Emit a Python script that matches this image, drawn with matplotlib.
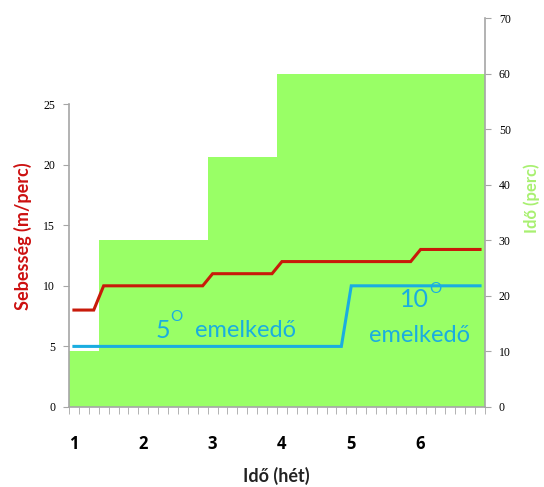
import matplotlib

matplotlib.use("Agg")
import numpy as np
import matplotlib.pyplot as plt

plt.rcParams["font.family"] = ["Lato", "DejaVu Sans"]

# daily values over six weeks (42 days)
speed = [8, 8, 8, 10, 10, 10, 10, 10, 10, 10, 10, 10, 10, 10,
         11, 11, 11, 11, 11, 11, 11, 12, 12, 12, 12, 12, 12, 12,
         12, 12, 12, 12, 12, 12, 12, 13, 13, 13, 13, 13, 13, 13]
incline = [5, 5, 5, 5, 5, 5, 5, 5, 5, 5, 5, 5, 5, 5,
           5, 5, 5, 5, 5, 5, 5, 5, 5, 5, 5, 5, 5, 5,
           10, 10, 10, 10, 10, 10, 10, 10, 10, 10, 10, 10, 10, 10]
duration = [10, 10, 10, 30, 30, 30, 30, 30, 30, 30, 30, 30, 30, 30,
            45, 45, 45, 45, 45, 45, 45, 60, 60, 60, 60, 60, 60, 60,
            60, 60, 60, 60, 60, 60, 60, 60, 60, 60, 60, 60, 60, 60]
week_labels = ["1", "2", "3", "4", "5", "6"]

red = "#C81A0A"
blue = "#1AADE0"
green = "#99FF66"
grey = "#A6A6A6"

fig = plt.figure(figsize=(5.44, 4.87), dpi=100)
ax = fig.add_axes([0.1268, 0.1643, 0.7647, 0.7987])
ax2 = ax.twinx()

n = len(speed)
x = np.arange(n)

ax2.bar(x, duration, width=1.0, align="edge", color=green, linewidth=0)
ax2.set_ylim(0, 70)
ax2.set_yticks(np.arange(0, 71, 10))

ax.plot(x + 0.5, speed, color=red, lw=2.2, solid_joinstyle="miter")
ax.plot(x + 0.5, incline, color=blue, lw=2.2, solid_joinstyle="miter")
ax.set_ylim(0, 32.1)
ax.set_yticks(np.arange(0, 26, 5))
ax.set_xlim(0, n)

ax.set_zorder(ax2.get_zorder() + 1)
ax.patch.set_visible(False)

# x ticks: one minor tick per day, week labels at day 1, 8, 15, ...
ax.set_xticks(np.arange(0, n + 1), minor=True)
ax.set_xticks(np.arange(0, n, 7) + 0.5)
ax.set_xticklabels(week_labels, fontsize=12, fontweight="bold", family=["Open Sans", "DejaVu Sans"])
ax.tick_params(axis="x", which="major", length=0, pad=20)
ax.tick_params(axis="x", which="minor", length=5, color=grey, direction="out")

for a in (ax, ax2):
    a.spines["top"].set_visible(False)
    for s in a.spines.values():
        s.set_color(grey)
        s.set_linewidth(1.2)
ax.spines["right"].set_visible(False)
ax2.spines["left"].set_visible(False)
ax2.spines["bottom"].set_visible(False)
ax.spines["left"].set_bounds(0, 25)

ax.tick_params(axis="y", length=4, color=grey, labelsize=8.5, pad=6)
ax2.tick_params(axis="y", length=4, color=grey, labelsize=8.5, pad=6)
for lab in ax.get_yticklabels() + ax2.get_yticklabels():
    lab.set_family("Liberation Serif")

ax.set_ylabel("Sebesség (m/perc)", color="#CC1010", fontsize=13, fontweight="bold", va="center")
ax.yaxis.set_label_coords(-0.11, 0.44)
ax2.set_ylabel("Idő (perc)", color="#A8F070", fontsize=12, fontweight="bold", va="center")
ax2.yaxis.set_label_coords(1.113, 0.537)
ax.set_xlabel("Idő (hét)", fontsize=13, fontweight="bold", color="#222222", va="center")
ax.xaxis.set_label_coords(0.4976, -0.177)

# annotations
ax.text(9.5, 6.35, "5", color=blue, fontsize=18, ha="center", va="center")
ax.text(10.8, 7.4, "O", color=blue, fontsize=11, ha="center", va="center")
ax.text(12.7, 6.35, "emelkedő", color=blue, fontsize=17, ha="left", va="center")
ax.text(34.9, 8.9, "10", color=blue, fontsize=18, ha="center", va="center")
ax.text(37.0, 9.7, "O", color=blue, fontsize=11, ha="center", va="center")
ax.text(35.4, 5.94, "emelkedő", color=blue, fontsize=17, ha="center", va="center")

fig.savefig("out.png", dpi=100)
